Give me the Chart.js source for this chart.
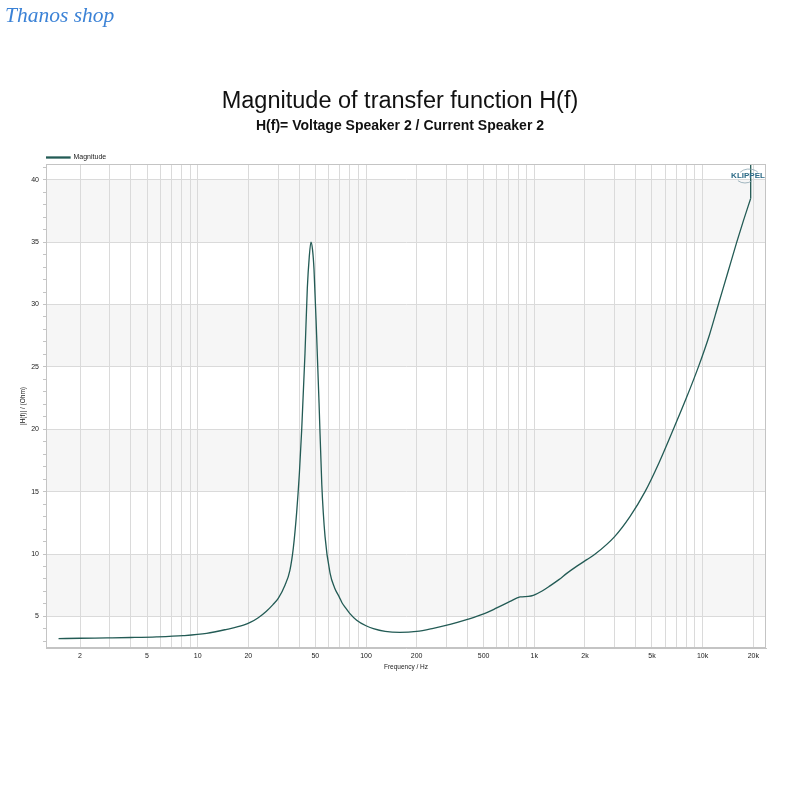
<!DOCTYPE html>
<html>
<head>
<meta charset="utf-8">
<title>Magnitude of transfer function H(f)</title>
<script src="https://cdn.jsdelivr.net/npm/chart.js@4.4.1/dist/chart.umd.min.js"></script>
<style>
  html, body { margin: 0; padding: 0; background: #fff; }
  #wrap { position: relative; width: 800px; height: 800px; }
  #hChart { position: absolute; left: 0; top: 0; }
  #shop {
    position: absolute; left: 5px; top: 3px;
    font-family: "Liberation Serif", "DejaVu Serif", serif;
    font-style: italic; font-size: 21.5px; color: #3b82d6;
  }
</style>
</head>
<body>
<div id="wrap">
  <canvas id="hChart" width="800" height="800"></canvas>
  <div id="shop">Thanos shop</div>
</div>
<script>
const freqHz = [1.49, 2, 2.9, 4, 5.7, 8.2, 11.3, 14.9, 18.7, 20.5, 22.9, 25.5, 28, 30.1, 33, 35.3, 37, 38.7,
  40.2, 41.5, 43.4, 44.8, 46.0, 47.1, 48.1, 49.1, 50.9, 52.6, 54.6, 57.1, 61.1, 65, 69.4, 72, 75, 80, 88,
  100, 110.6, 130, 159, 200, 251, 320, 396, 500, 598, 717, 823, 921, 986, 1100, 1239, 1400, 1558, 1800,
  2050, 2300, 3000, 3700, 4550, 5500, 6700, 8000, 9440, 11000, 12400, 14000, 15950, 17460, 19300];
const magnitudeOhm = [3.22, 3.25, 3.28, 3.31, 3.36, 3.46, 3.64, 3.97, 4.3, 4.52, 4.9, 5.4, 5.95, 6.45, 7.5, 8.7, 10.5, 13.3,
  16.5, 20.0, 26.1, 31.3, 33.8, 35.0, 34.4, 32.8, 27.5, 22.1, 15.6, 11.4, 8.5, 7.3, 6.55, 6.1, 5.75, 5.25, 4.7,
  4.25, 4.02, 3.8, 3.72, 3.8, 4.05, 4.38, 4.74, 5.2, 5.68, 6.2, 6.56, 6.6, 6.68, 7.0, 7.45, 7.95, 8.45, 9.05,
  9.55, 10.0, 11.4, 13.0, 15.0, 17.3, 20.0, 22.5, 25.0, 27.6, 30.0, 32.4, 35.0, 36.7, 38.5];
// last sweep point jumps straight up to the top of the plot
const tailHz = [19300, 19300];
const tailOhm = [38.5, 41.2];

const tickLabels = [2, 5, 10, 20, 50, 100, 200, 500, 1000, 2000, 5000, 10000, 20000];
const tickText = ['2', '5', '10', '20', '50', '100', '200', '500', '1k', '2k', '5k', '10k', '20k'];

const xMin = 1.255, xMax = 23800;
const yMin = 2.47, yMax = 41.26;

// log grid: 1..9 in every decade
const gridFreqs = [];
for (let d = 1; d <= 10000; d *= 10) {
  for (let m = 1; m <= 9; m++) {
    const v = m * d;
    if (v >= xMin && v <= xMax) gridFreqs.push(v);
  }
}

const points = freqHz.map((f, i) => ({ x: f, y: magnitudeOhm[i] }));
const tail = tailHz.map((f, i) => ({ x: f, y: tailOhm[i] }));
const lineColor = '#235b55';
const font = '"Liberation Sans", Arial, sans-serif';

const frame = {
  id: 'frame',
  afterLayout(chart) {
    // legend line sits just above the plot box
    chart.legend.top += 7;
    chart.legend.bottom += 7;
  },
  beforeDraw(chart) {
    const { ctx, chartArea: a, scales: { y } } = chart;
    ctx.save();
    ctx.fillStyle = '#f6f6f6';
    for (let v = 5; v < 40; v += 10) {
      const top = y.getPixelForValue(v + 5), bot = y.getPixelForValue(v);
      ctx.fillRect(a.left, top, a.right - a.left, bot - top);
    }
    ctx.restore();
  },
  afterDraw(chart) {
    const { ctx, chartArea: a } = chart;
    ctx.save();
    ctx.strokeStyle = '#c4c4c4';
    ctx.lineWidth = 1;
    ctx.strokeRect(a.left + 0.5, a.top + 0.5, a.right - a.left - 1, a.bottom - a.top - 1);
    // logo
    const cx = a.right - 18, cy = a.top + 12;
    ctx.font = 'bold 8px ' + font;
    ctx.fillStyle = '#2c6a86';
    ctx.textAlign = 'center';
    ctx.textBaseline = 'middle';
    ctx.fillText('KLIPPEL', cx, cy);
    ctx.strokeStyle = '#8aa4b0';
    ctx.lineWidth = 0.8;
    ctx.beginPath();
    ctx.ellipse(cx + 1, cy + 1, 11, 8, 0, -Math.PI * 0.8, -Math.PI * 0.2);
    ctx.stroke();
    ctx.beginPath();
    ctx.ellipse(cx - 3, cy - 1, 10, 8, 0, Math.PI * 0.25, Math.PI * 0.75);
    ctx.stroke();
    ctx.restore();
  }
};

new Chart(document.getElementById('hChart'), {
  type: 'line',
  data: {
    datasets: [{
      label: 'Magnitude',
      data: points,
      borderColor: lineColor,
      backgroundColor: lineColor,
      borderWidth: 1.3,
      pointRadius: 0,
      cubicInterpolationMode: 'monotone',
      fill: false
    }, {
      label: 'tail',
      data: tail,
      borderColor: lineColor,
      borderWidth: 1.3,
      pointRadius: 0,
      fill: false
    }]
  },
  options: {
    responsive: false,
    animation: false,
    layout: { padding: { top: 0, left: 0, right: 0, bottom: 127 } },
    plugins: {
      title: {
        display: true,
        text: 'Magnitude of transfer function H(f)',
        color: '#111',
        font: { family: font, size: 23.5, weight: 'normal' },
        padding: { top: 87, bottom: 0 }
      },
      subtitle: {
        display: true,
        text: 'H(f)= Voltage Speaker 2 / Current Speaker 2',
        color: '#111',
        font: { family: font, size: 14, weight: 'bold' },
        padding: { top: 2.4, bottom: 12.6 }
      },
      legend: {
        display: true,
        position: 'top',
        align: 'start',
        fullSize: false,
        labels: {
          boxWidth: 24,
          boxHeight: 1,
          padding: 0,
          color: '#222',
          font: { family: font, size: 7 },
          filter: item => item.datasetIndex === 0
        }
      },
      tooltip: { enabled: false }
    },
    scales: {
      x: {
        type: 'logarithmic',
        min: xMin,
        max: xMax,
        afterBuildTicks: s => { s.ticks = gridFreqs.map(v => ({ value: v })); },
        afterFit: s => { s.height = 25; },
        grid: { color: '#dadada', drawTicks: false },
        border: { color: '#c4c4c4' },
        ticks: {
          autoSkip: false,
          maxRotation: 0,
          padding: 4,
          color: '#222',
          font: { family: font, size: 7 },
          callback: v => {
            const i = tickLabels.indexOf(v);
            return i >= 0 ? tickText[i] : '';
          }
        },
        title: {
          display: true,
          text: 'Frequency / Hz',
          color: '#222',
          font: { family: font, size: 6.5 },
          padding: { top: 0, bottom: 2 }
        }
      },
      y: {
        type: 'linear',
        min: yMin,
        max: yMax,
        afterFit: s => { s.width = 46; },
        grid: {
          color: c => (c.tick && c.tick.value % 5 === 0) ? '#dadada' : 'rgba(0,0,0,0)',
          tickColor: '#c4c4c4',
          tickLength: 3
        },
        border: { color: '#c4c4c4' },
        ticks: {
          stepSize: 1,
          includeBounds: false,
          autoSkip: false,
          padding: 4,
          color: '#222',
          font: { family: font, size: 7 },
          callback: v => v % 5 === 0 ? v : ''
        },
        title: {
          display: true,
          text: '|H(f)| / (Ohm)',
          color: '#222',
          font: { family: font, size: 6.5 },
          padding: { top: 19.6, bottom: 0 }
        }
      },
      // empty right margin so the titles centre on the page
      yRight: {
        type: 'linear',
        position: 'right',
        min: yMin,
        max: yMax,
        afterFit: s => { s.width = 34; },
        grid: { display: false },
        border: { display: false },
        ticks: { display: false }
      }
    }
  },
  plugins: [frame]
});
</script>
</body>
</html>
